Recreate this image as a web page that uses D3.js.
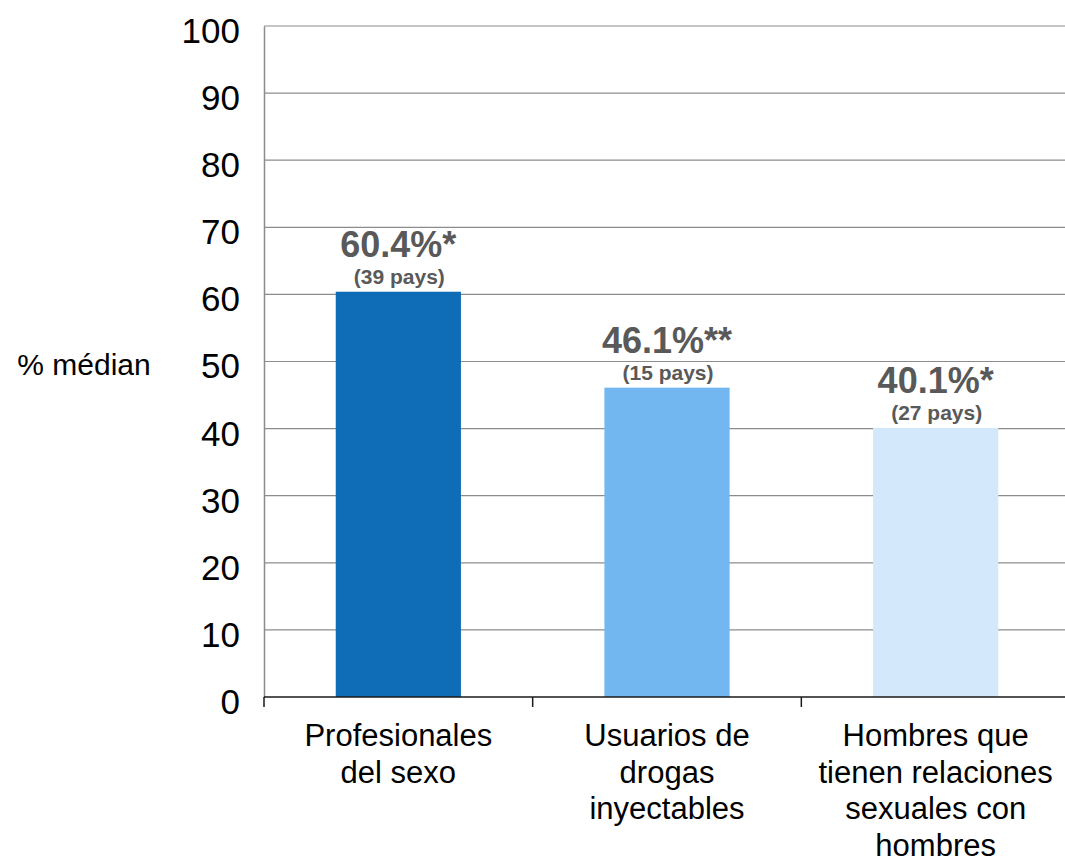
<!DOCTYPE html>
<html><head><meta charset="utf-8">
<script src="https://cdn.jsdelivr.net/npm/d3@7"></script>
<style>body{margin:0;background:#fff}svg{display:block;font-family:Arial,"Liberation Sans",sans-serif}</style>
</head><body><svg id="c" width="1065" height="864"></svg>
<script>
const categories = [["Profesionales","del sexo"],["Usuarios de","drogas","inyectables"],["Hombres que","tienen relaciones","sexuales con","hombres"]];
const values = [60.4, 46.1, 40.1];
const valueLabels = ["60.4%*", "46.1%**", "40.1%*"];
const countLabels = ["(39 pays)", "(15 pays)", "(27 pays)"];
const colors = ["#0F6CB6", "#72B7F0", "#D4E8FB"];
const yTicks = [0,10,20,30,40,50,60,70,80,90,100];
const yTitle = "% médian";

const svg = d3.select("#c");
const L = 264, R = 1070, T = 26, B = 697;
const x = d3.scaleBand().domain(d3.range(values.length)).range([L, R]).padding(0);
const y = d3.scaleLinear().domain([0, 100]).range([B, T]);
const bw = x.bandwidth() * 0.466;

// gridlines
svg.append("g").selectAll("line").data(yTicks.filter(d => d > 0)).join("line")
  .attr("x1", L).attr("x2", 1065).attr("y1", d => y(d)).attr("y2", d => y(d))
  .attr("stroke", "#8c8c8c").attr("stroke-width", 1.2);

// y axis
const ya = svg.append("g").attr("transform", `translate(${L},0)`)
  .call(d3.axisLeft(y).tickValues(yTicks).tickSize(0).tickPadding(24));
ya.select(".domain").attr("stroke", "#8c8c8c").attr("stroke-width", 1.5);
ya.selectAll("text").attr("font-size", 35).attr("fill", "#000").attr("font-family", "Arial, 'Liberation Sans', sans-serif").attr("dy", "0.47em");

// bars
svg.append("g").selectAll("rect").data(values).join("rect")
  .attr("x", (d, i) => x(i) + (x.bandwidth() - bw) / 2)
  .attr("width", bw)
  .attr("y", d => y(d)).attr("height", d => B - y(d))
  .attr("fill", (d, i) => colors[i]);

// x axis
const xa = svg.append("g").attr("transform", `translate(0,${B})`);
xa.append("line").attr("x1", L).attr("x2", 1065).attr("y1", 0).attr("y2", 0).attr("stroke", "#1a1a1a").attr("stroke-width", 1.5);
xa.selectAll("line.tk").data(d3.range(values.length)).join("line").attr("class", "tk")
  .attr("x1", i => x(i)).attr("x2", i => x(i)).attr("y1", 0).attr("y2", 10)
  .attr("stroke", "#1a1a1a").attr("stroke-width", 1.5);

// category labels
categories.forEach((lines, i) => {
  const t = svg.append("text").attr("text-anchor", "middle").attr("font-size", 31).attr("fill", "#000");
  lines.forEach((s, j) => t.append("tspan").attr("x", x(i) + x.bandwidth() / 2).attr("y", 746 + j * 36.5).text(s));
});

// value labels
values.forEach((v, i) => {
  const cx = x(i) + x.bandwidth() / 2;
  svg.append("text").attr("x", cx).attr("y", y(v) - 35).attr("text-anchor", "middle")
    .attr("font-size", 36).attr("font-weight", "bold").attr("fill", "#595959").text(valueLabels[i]);
  svg.append("text").attr("x", cx + 1).attr("y", y(v) - 8).attr("text-anchor", "middle")
    .attr("font-size", 21).attr("font-weight", "bold").attr("fill", "#595959").text(countLabels[i]);
});

// y title
svg.append("text").attr("x", 84).attr("y", 375).attr("text-anchor", "middle").attr("font-size", 30).attr("fill", "#000").text(yTitle);
</script></body></html>
